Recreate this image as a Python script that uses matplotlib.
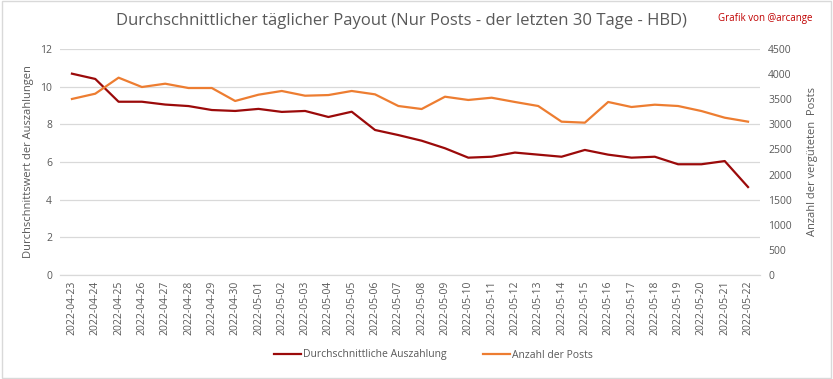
import matplotlib.pyplot as plt
from matplotlib.patches import Rectangle

plt.rcParams['font.family'] = ['Open Sans', 'DejaVu Sans']

dates = ['2022-04-23', '2022-04-24', '2022-04-25', '2022-04-26', '2022-04-27', '2022-04-28',
         '2022-04-29', '2022-04-30', '2022-05-01', '2022-05-02', '2022-05-03', '2022-05-04',
         '2022-05-05', '2022-05-06', '2022-05-07', '2022-05-08', '2022-05-09', '2022-05-10',
         '2022-05-11', '2022-05-12', '2022-05-13', '2022-05-14', '2022-05-15', '2022-05-16',
         '2022-05-17', '2022-05-18', '2022-05-19', '2022-05-20', '2022-05-21', '2022-05-22']
payout = [10.69, 10.41, 9.2, 9.2, 9.05, 8.97, 8.76, 8.71, 8.82, 8.66, 8.71, 8.39, 8.67, 7.7,
          7.43, 7.13, 6.73, 6.23, 6.28, 6.5, 6.39, 6.28, 6.64, 6.39, 6.23, 6.28, 5.88, 5.88,
          6.05, 4.67]
posts = [3505, 3610, 3929, 3743, 3809, 3723, 3723, 3465, 3590, 3664, 3570, 3583, 3664, 3597,
         3365, 3305, 3550, 3485, 3530, 3445, 3365, 3053, 3033, 3445, 3345, 3391, 3365, 3265,
         3132, 3053]

txt = '#595959'
red = '#9B0A0A'
orange = '#ED7D31'

fig = plt.figure(figsize=(8.33, 3.79), dpi=100)
ax = fig.add_axes([60.3 / 833, 1 - 275 / 379, (759.7 - 60.3) / 833, 226 / 379])
ax2 = ax.twinx()

x = range(len(dates))
l1, = ax.plot(x, payout, color=red, lw=1.6, label='Durchschnittliche Auszahlung')
l2, = ax2.plot(x, posts, color=orange, lw=1.6, label='Anzahl der Posts')

ax.set_xlim(-0.5, len(dates) - 0.5)
ax.set_ylim(0, 12)
ax.set_yticks(range(0, 13, 2))
ax2.set_ylim(0, 4500)
ax2.set_yticks(range(0, 4501, 500))
ax.set_xticks(list(x))
ax.set_xticklabels(dates, rotation=90)

ax.grid(axis='y', color='#D9D9D9', lw=0.9)
ax.set_axisbelow(True)
for a in (ax, ax2):
    for s in ('top', 'left', 'right'):
        a.spines[s].set_visible(False)
    a.spines['bottom'].set_color('#D9D9D9')
    a.tick_params(length=0, labelsize=7.5, labelcolor=txt, pad=6)
ax.tick_params(axis='x', pad=4)

ax.set_ylabel('Durchschnittswert der Auszahlungen', color=txt, fontsize=8)
ax2.set_ylabel('Anzahl der vergüteten  Posts', color=txt, fontsize=8, labelpad=11)

fig.text(0.482, 1 - 21 / 379, 'Durchschnittlicher täglicher Payout (Nur Posts - der letzten 30 Tage - HBD)',
         ha='center', va='center', color=txt, fontsize=12)
fig.text(0.975, 1 - 18 / 379, 'Grafik von @arcange', ha='right', va='center',
         color='#C00000', fontsize=7)

fig.legend(handles=[l1, l2], loc='center', bbox_to_anchor=(0.52, 1 - 355 / 379), ncol=2,
           frameon=False, fontsize=7.5, labelcolor=txt, handlelength=2.6, handletextpad=0.2,
           columnspacing=3.5)

fig.patches.append(Rectangle((0.002, 0.003), 0.996, 0.994, transform=fig.transFigure,
                             fill=False, edgecolor='#D9D9D9', lw=1))

fig.savefig('out.png', dpi=100)
